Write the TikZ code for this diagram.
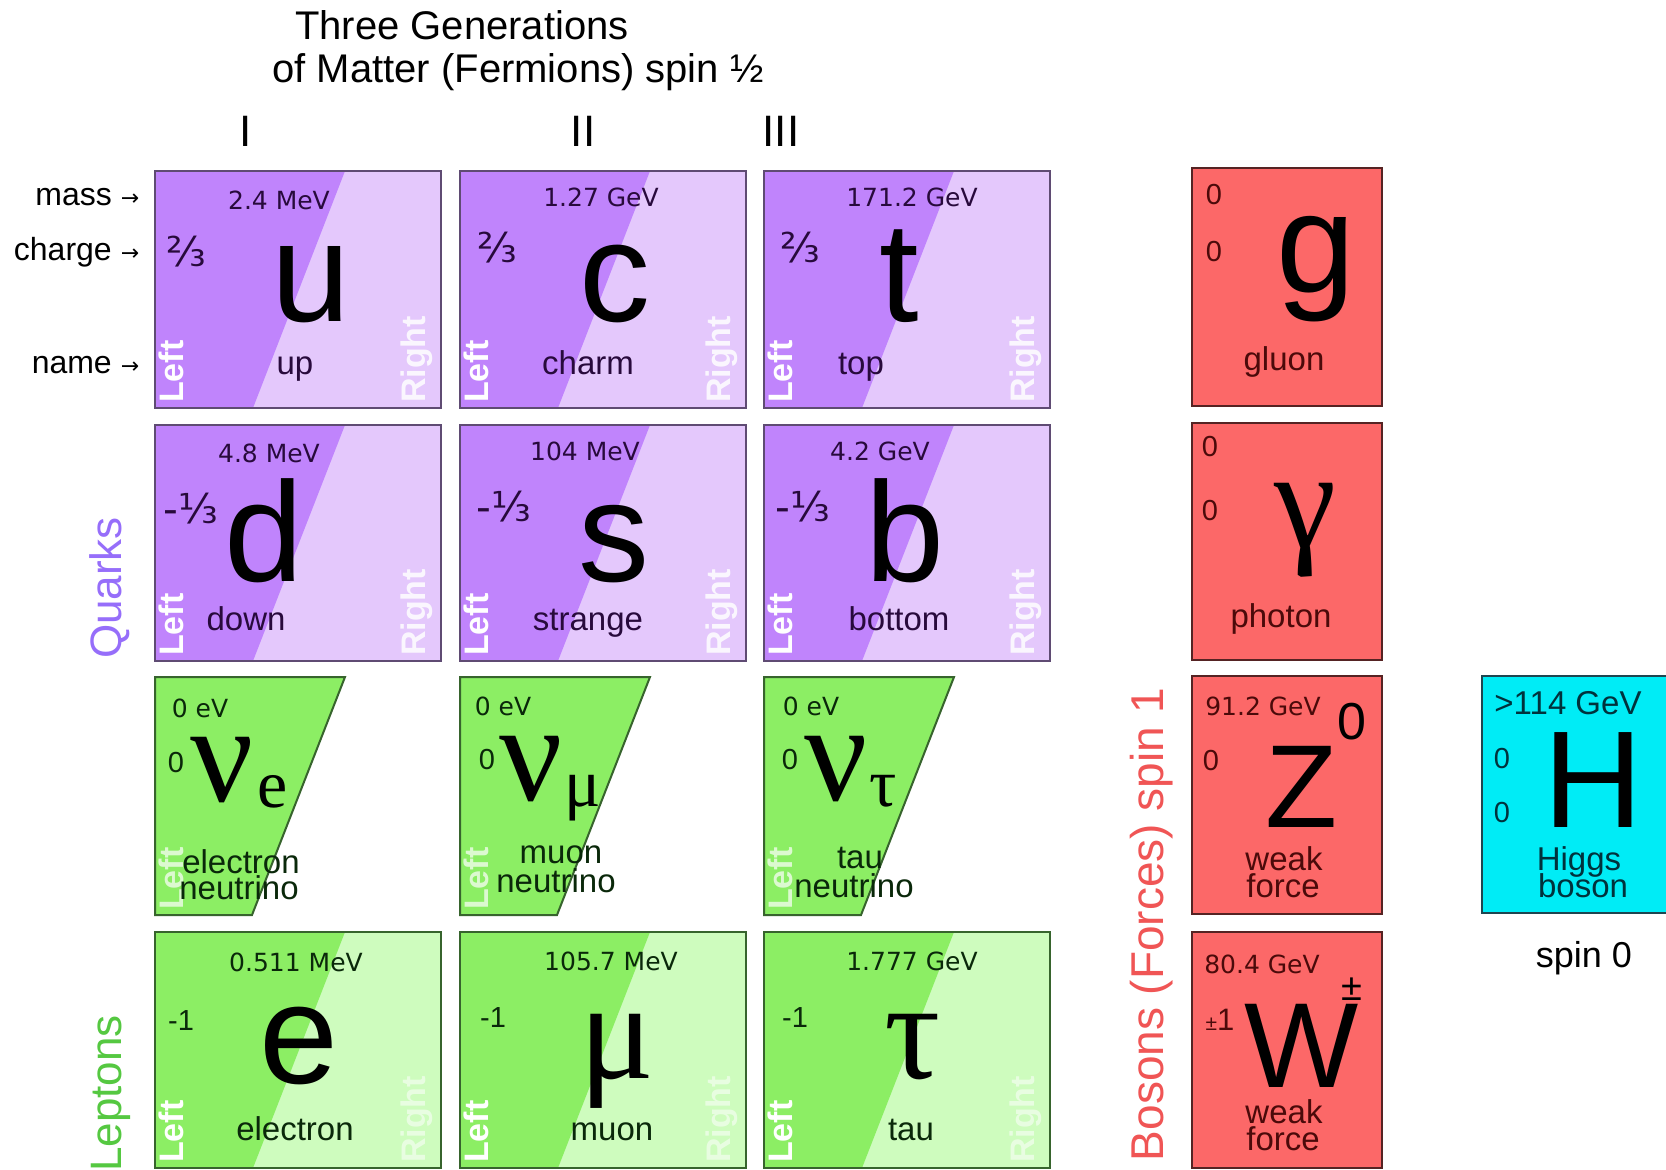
\documentclass[tikz,border=0pt]{standalone}
\usepackage{fontspec}
\setmainfont{Liberation Sans}
\newfontfamily\dvs{DejaVu Sans}
\newfontfamily\lserif{Liberation Serif}
\definecolor{qdark}{RGB}{192,132,252}
\definecolor{qlight}{RGB}{228,200,252}
\definecolor{qline}{RGB}{95,75,115}
\definecolor{qtext}{RGB}{40,10,60}
\definecolor{ldark}{RGB}{140,238,100}
\definecolor{llight}{RGB}{206,252,190}
\definecolor{lline}{RGB}{55,100,45}
\definecolor{ltext}{RGB}{10,40,10}
\definecolor{bfill}{RGB}{252,104,104}
\definecolor{bline}{RGB}{85,35,35}
\definecolor{btext}{RGB}{75,10,10}
\definecolor{hfill}{RGB}{0,236,246}
\definecolor{hline}{RGB}{30,70,80}
\definecolor{htext}{RGB}{0,50,60}
\definecolor{quarkc}{RGB}{150,110,250}
\definecolor{leptonc}{RGB}{85,200,65}
\definecolor{bosonc}{RGB}{240,85,85}
\newcommand\fsz[1]{\fontsize{#1}{#1}\selectfont}
\newcommand\fermcell[7]{%
  \fill[#5] (#1,#2) rectangle (#1+286,#3);
  \fill[#4] (#1,#2) -- (#1+190,#2) -- (#1+98,#3) -- (#1,#3) -- cycle;
  \draw[#6, line width=2pt] (#1,#2) rectangle (#1+286,#3);
  \node[lefttag, anchor=west] at (#1+16,#3-5) {Left};
  \node[lefttag, anchor=west, opacity=#7] at (#1+262,#3-5) {Right};
}
\newcommand\nucell[3]{%
  \fill[ldark] (#1,#2) -- (#1+190,#2) -- (#1+97,#3) -- (#1,#3) -- cycle;
  \draw[lline, line width=2pt] (#1,#2) -- (#1+190,#2) -- (#1+97,#3) -- (#1,#3) -- cycle;
  \node[lefttag, anchor=west, opacity=0.7] at (#1+16,#3-5) {Left};
}
\tikzset{
  mass/.style={font=\dvs\fsz{25}, inner sep=0pt},
  chg/.style={font=\fsz{29}, inner sep=0pt},
  frac/.style={font=\dvs\fsz{41}, inner sep=0pt},
  bigsans/.style={font=\fsz{142}, anchor=base, inner sep=0pt},
  bigserif/.style={font=\lserif\fsz{140}, anchor=base, inner sep=0pt},
  subserif/.style={font=\lserif\fsz{68}, anchor=base, inner sep=0pt},
  pname/.style={font=\fsz{33}, anchor=base, inner sep=0pt},
  lefttag/.style={font=\bfseries\fsz{34}, text=white, rotate=90, inner sep=0pt},
  hdr/.style={font=\fsz{40}, inner sep=0pt},
  side/.style={font=\fsz{32}, anchor=base east, inner sep=0pt},
  sidearrow/.style={font=\dvs\fsz{22}, anchor=base, inner sep=0pt},
  grouplab/.style={font=\fsz{44}, rotate=90, inner sep=0pt},
}
\begin{document}
\begin{tikzpicture}[x=1pt,y=-1pt]
\useasboundingbox (0,0) rectangle (1666,1170);
\fill[white] (0,0) rectangle (1666,1170);

% headings
\node[hdr] (t1) at (462,25) {Three Generations};
\node[hdr] (t2) at (518,72) {of Matter (Fermions) spin ½};
\node[font=\fsz{44}, inner sep=0pt] (gI) at (246,131) {I};
\node[font=\fsz{44}, inner sep=0pt] (gII) at (583,131) {II};
\node[font=\fsz{44}, inner sep=0pt] (gIII) at (781,131) {III};

\node[side] (lmass) at (112,205) {mass};
\node[sidearrow] (amass) at (130,205) {→};
\node[side] (lcharge) at (112,260) {charge};
\node[sidearrow] (acharge) at (130,260) {→};
\node[side] (lname) at (112,373) {name};
\node[sidearrow] (aname) at (130,373) {→};

% quark cells
\fermcell{155}{171}{408}{qdark}{qlight}{qline}{0.85}
\fermcell{460}{171}{408}{qdark}{qlight}{qline}{0.85}
\fermcell{764}{171}{408}{qdark}{qlight}{qline}{0.85}
\fermcell{155}{425}{661}{qdark}{qlight}{qline}{0.85}
\fermcell{460}{425}{661}{qdark}{qlight}{qline}{0.85}
\fermcell{764}{425}{661}{qdark}{qlight}{qline}{0.85}
% lepton cells
\nucell{155}{677}{915}
\nucell{460}{677}{915}
\nucell{764}{677}{915}
\fermcell{155}{932}{1168}{ldark}{llight}{lline}{0.55}
\fermcell{460}{932}{1168}{ldark}{llight}{lline}{0.55}
\fermcell{764}{932}{1168}{ldark}{llight}{lline}{0.55}

% up
\node[mass, text=qtext] (um) at (279,200) {2.4 MeV};
\node[frac, text=qtext] (uq) at (186,252) {⅔};
\node[bigsans] (u) at (311,321) {u};
\node[pname, text=qtext] (un) at (295,374) {up};
% charm
\node[mass, text=qtext] (cm) at (601,197) {1.27 GeV};
\node[frac, text=qtext] (cq) at (497,248) {⅔};
\node[bigsans] (c) at (615,321) {c};
\node[pname, text=qtext] (cn) at (588,374) {charm};
% top
\node[mass, text=qtext] (tm) at (912,197) {171.2 GeV};
\node[frac, text=qtext] (tq) at (800,248) {⅔};
\node[bigsans] (t) at (899,321) {t};
\node[pname, text=qtext] (tn) at (861,374) {top};
% down
\node[mass, text=qtext] (dm) at (269,453) {4.8 MeV};
\node[frac, text=qtext] (dq) at (191,509) {-⅓};
\node[bigsans] (d) at (264,581) {d};
\node[pname, text=qtext] (dn) at (246,630) {down};
% strange
\node[mass, text=qtext] (sm) at (585,451) {104 MeV};
\node[frac, text=qtext] (sq) at (504,507) {-⅓};
\node[bigsans] (s) at (614,581) {s};
\node[pname, text=qtext] (sn) at (588,630) {strange};
% bottom
\node[mass, text=qtext] (bm) at (880,451) {4.2 GeV};
\node[frac, text=qtext] (bq) at (803,507) {-⅓};
\node[bigsans] (b) at (905,581) {b};
\node[pname, text=qtext] (bn) at (899,630) {bottom};

% neutrinos
\node[mass, text=ltext] (nem) at (200,708) {0 eV};
\node[chg, text=ltext] (neq) at (176,763) {0};
\node[bigserif] (ne) at (222,801) {ν};
\node[subserif] (nes) at (273,807) {e};
\node[pname, text=ltext] (nen1) at (241,873) {electron};
\node[pname, text=ltext] (nen2) at (239,899) {neutrino};

\node[mass, text=ltext] (nmm) at (503,706) {0 eV};
\node[chg, text=ltext] (nmq) at (487,760) {0};
\node[bigserif] (nm) at (531,800) {ν};
\node[subserif] (nms) at (583,806) {μ};
\node[pname, text=ltext] (nmn1) at (561,863) {muon};
\node[pname, text=ltext] (nmn2) at (556,892) {neutrino};

\node[mass, text=ltext] (ntm) at (811,706) {0 eV};
\node[chg, text=ltext] (ntq) at (790,760) {0};
\node[bigserif] (nt) at (836,800) {ν};
\node[subserif] (nts) at (883,806) {τ};
\node[pname, text=ltext] (ntn1) at (860,868) {tau};
\node[pname, text=ltext] (ntn2) at (854,897) {neutrino};

% charged leptons
\node[mass, text=ltext] (em) at (296,962) {0.511 MeV};
\node[chg, text=ltext] (eq) at (181,1021) {-1};
\node[bigsans] (e) at (299,1083) {e};
\node[pname, text=ltext] (en) at (295,1140) {electron};

\node[mass, text=ltext] (mm) at (611,961) {105.7 MeV};
\node[chg, text=ltext] (mq) at (493,1018) {-1};
\node[bigserif] (m) at (617,1078) {μ};
\node[pname, text=ltext] (mn) at (612,1140) {muon};

\node[mass, text=ltext] (tam) at (912,961) {1.777 GeV};
\node[chg, text=ltext] (taq) at (795,1018) {-1};
\node[bigserif] (ta) at (913,1078) {τ};
\node[pname, text=ltext] (tan) at (911,1140) {tau};

% bosons
\foreach \ya/\yb in {168/406,423/660,676/914,932/1168}
  \filldraw[fill=bfill, draw=bline, line width=2pt] (1192,\ya) rectangle (1382,\yb);
\filldraw[fill=hfill, draw=hline, line width=2pt] (1482,676) rectangle (1672,913);

\node[chg, text=btext] (gm) at (1214,195) {0};
\node[chg, text=btext] (gq) at (1214,252) {0};
\node[bigsans] (g) at (1316,292) {g};
\node[pname, text=btext] (gn) at (1284,370) {gluon};

\node[chg, text=btext] (pm) at (1210,447) {0};
\node[chg, text=btext] (pq) at (1210,511) {0};
\node[bigserif] (p) at (1305,547) {γ};
\node[pname, text=btext] (pn) at (1281,627) {photon};

\node[mass, text=btext] (zm) at (1263,706) {91.2 GeV};
\node[font=\fsz{52}, inner sep=0pt] (zs) at (1352,722) {0};
\node[chg, text=btext] (zq) at (1211,761) {0};
\node[font=\fsz{118}, anchor=base, inner sep=0pt] (z) at (1302,827) {Z};
\node[pname, text=btext] (zn1) at (1284,870) {weak};
\node[pname, text=btext] (zn2) at (1283,897) {force};

\node[mass, text=btext] (wm) at (1262,964) {80.4 GeV};
\node[inner sep=0pt, text=btext] (wq) at (1220,1020) {{\fsz{21}±}{\fsz{31}1}};
\node[font=\fsz{121}, anchor=base, inner sep=0pt] (w) at (1302,1087) {W};
\node[font=\fsz{38}, inner sep=0pt] (ws) at (1352,989) {±};
\node[pname, text=btext] (wn1) at (1284,1123) {weak};
\node[pname, text=btext] (wn2) at (1283,1150) {force};

\node[font=\fsz{33}, text=htext, inner sep=0pt] (hm) at (1568,703) {>114 GeV};
\node[chg, text=htext] (hq1) at (1502,759) {0};
\node[chg, text=htext] (hq2) at (1502,813) {0};
\node[font=\fsz{138}, anchor=base, inner sep=0pt] (h) at (1593,827) {H};
\node[pname, text=htext] (hn1) at (1579,870) {Higgs};
\node[pname, text=htext] (hn2) at (1583,897) {boson};
\node[font=\fsz{36}, inner sep=0pt] (spin0) at (1584,958) {spin 0};

% group labels
\node[grouplab, text=quarkc] (quarks) at (110,588) {Quarks};
\node[grouplab, text=leptonc, anchor=west] (leptons) at (111,1172) {Leptons};
\node[grouplab, text=bosonc, anchor=east, font=\fsz{46}] (bosons) at (1152,688) {Bosons (Forces) spin 1};
\end{tikzpicture}
\end{document}
